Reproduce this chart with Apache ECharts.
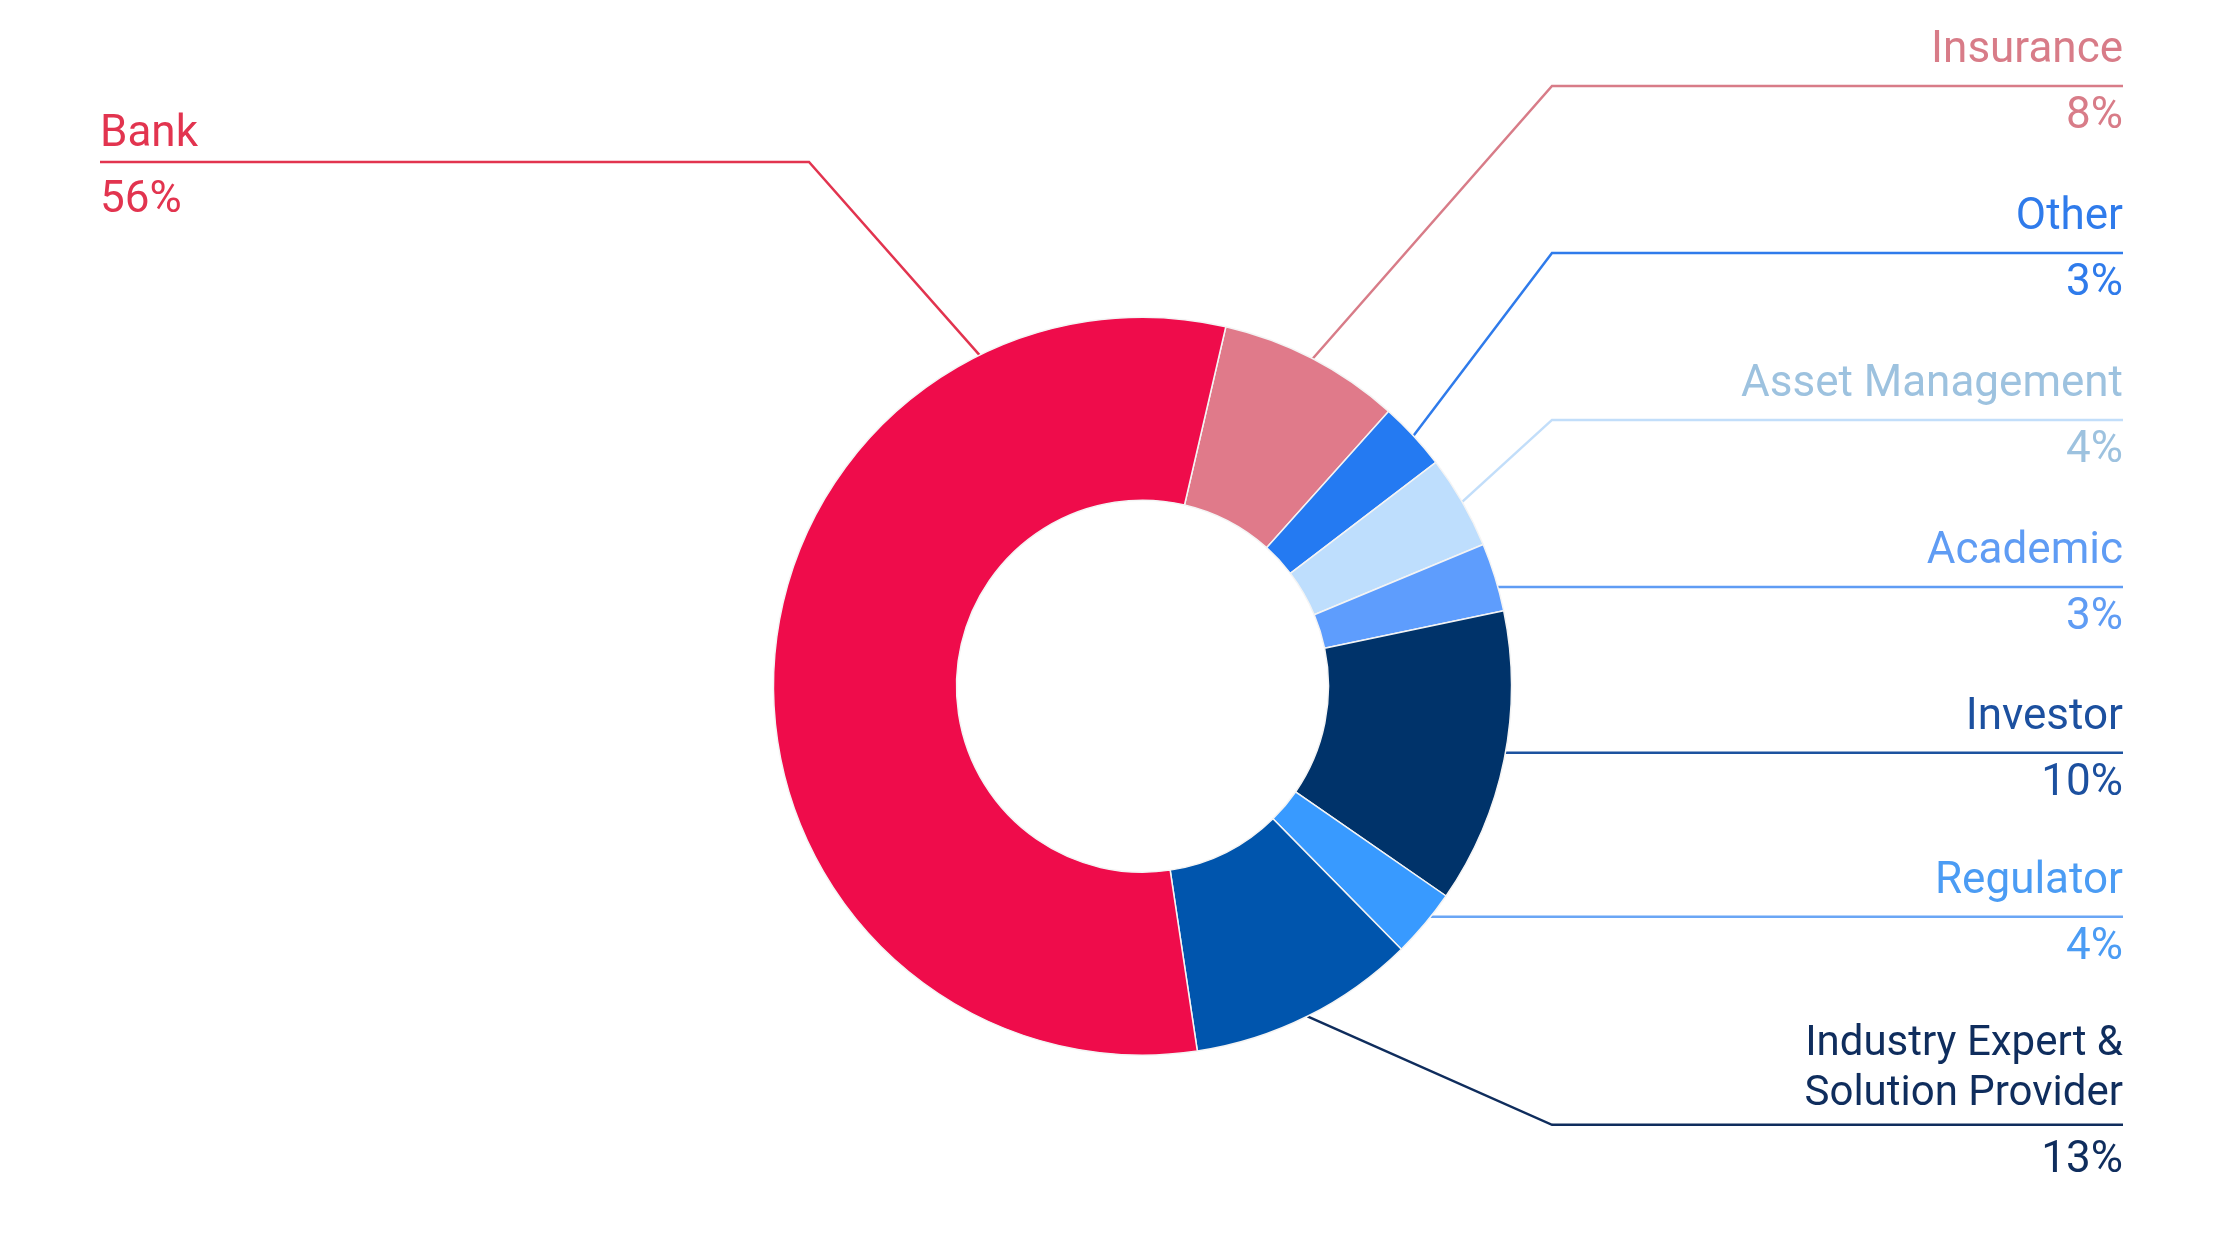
<!DOCTYPE html>
<html>
<head>
<meta charset="utf-8">
<script src="https://cdn.jsdelivr.net/npm/echarts@6/dist/echarts.min.js"></script>
<style>
  html, body { margin: 0; padding: 0; background: #ffffff; }
  #c { width: 2222px; height: 1252px; }
</style>
</head>
<body>
<div id="c"></div>
<script>
// ---------------- data ----------------
const categories = ['Insurance', 'Other', 'Asset Management', 'Academic', 'Investor', 'Regulator', 'Industry Expert &\nSolution Provider', 'Bank'];
// slice sizes (share of the ring, %)
const shares = [8.0, 3.0, 4.1, 3.0, 12.9, 3.0, 10.0, 56.0];
// percentages printed in the labels
const shareLabels = ['8%', '3%', '4%', '3%', '10%', '4%', '13%', '56%'];

// ---------------- styles ----------------
const sliceColors = ['#E07A8A', '#247AF2', '#BEDEFD', '#5E9DFD', '#00336A', '#389AFF', '#0055AD', '#EF0C4B'];
const labelColors = ['#D87C88', '#2F7BEB', '#9DC2DF', '#5F9CF4', '#1C509F', '#4B9CF4', '#0F2D5D', '#E2344F'];
const lineColors  = ['#D87C88', '#2F7BEB', '#C2DEFA', '#5F9CF4', '#1C529F', '#6AA6F5', '#0F2D5D', '#E2344F'];

// ---------------- layout ----------------
const W = 2222, H = 1252;
const CENTER = [1142.5, 686.2];
const RADIUS = [186, 369];
const START_ANGLE = 76.95;
const LABEL_RADIUS = 336;      // radius at which a label would naturally sit
const LABEL_GAP_UP = 167;      // min distance between label lines (upper half)
const LABEL_GAP_DOWN = 164;    // min distance between label lines (lower half)
const EXTRA_LINE_GAP = 44;     // extra distance per additional name line
const TEXT_RIGHT = 2123, TEXT_LEFT = 100;
const ELBOW_RIGHT = 1552, ELBOW_LEFT = 809;
const LEFT_LINE_Y = 162, LEFT_TICK_ANGLE = -26.2, LEFT_TEXT_SHIFT = 8;
const MULTI_TEXT_SHIFT = 5;    // multi-line names sit a little closer to their line
const FONT = 44, FONT_MULTI = 42, NAME_LH = 50, PCT_LH = 82, NAME_GAP = 10;
const LINE_WIDTH = 2.5;
const FONT_FAMILY = 'Roboto';

const rad = d => d * Math.PI / 180;
const total = shares.reduce((a, b) => a + b, 0);
const a0 = 90 - START_ANGLE;
const geo = [];
let cum = 0;
shares.forEach((v, i) => {
  const s = a0 + cum / total * 360;
  cum += v;
  const e = a0 + cum / total * 360;
  const mid = (s + e) / 2;
  geo.push({
    s, e, mid,
    lines: categories[i].split('\n').length,
    right: Math.sin(rad(mid)) >= 0,
    natural: CENTER[1] - LABEL_RADIUS * Math.cos(rad(mid))
  });
});
const rightIdx = geo.map((g, i) => i).filter(i => geo[i].right).sort((a, b) => geo[a].natural - geo[b].natural);
const upper = rightIdx.filter(i => geo[i].natural < CENTER[1]);
const lower = rightIdx.filter(i => geo[i].natural >= CENTER[1]);
for (let j = upper.length - 1; j >= 0; j--) {
  const g = geo[upper[j]];
  g.lineY = g.natural;
  if (j < upper.length - 1) {
    const n = geo[upper[j + 1]];
    g.lineY = Math.min(g.natural, n.lineY - LABEL_GAP_UP - EXTRA_LINE_GAP * (n.lines - 1));
  }
}
let prev = upper.length ? geo[upper[upper.length - 1]] : null;
lower.forEach(i => {
  const g = geo[i];
  g.lineY = prev ? Math.max(g.natural, prev.lineY + LABEL_GAP_DOWN + EXTRA_LINE_GAP * (g.lines - 1)) : g.natural;
  prev = g;
});
geo.forEach(g => { if (!g.right) g.lineY = LEFT_LINE_Y; });

const onRing = (angle, r) => [CENTER[0] + r * Math.sin(rad(angle)), CENTER[1] - r * Math.cos(rad(angle))];
geo.forEach(g => {
  let start = null;
  if (g.right) {
    const c = (CENTER[1] - g.lineY) / RADIUS[1];
    if (Math.abs(c) <= 1) {
      const th = Math.acos(c) * 180 / Math.PI;
      if (th >= g.s && th <= g.e) start = [CENTER[0] + RADIUS[1] * Math.sin(rad(th)), g.lineY];
    }
    if (!start) start = onRing(g.mid, RADIUS[1]);
  } else {
    start = onRing(LEFT_TICK_ANGLE, RADIUS[1]);
  }
  g.points = [start, [g.right ? ELBOW_RIGHT : ELBOW_LEFT, g.lineY], [g.right ? TEXT_RIGHT : TEXT_LEFT, g.lineY]];
});

// ---------------- chart ----------------
const chart = echarts.init(document.getElementById('c'), null, { renderer: 'canvas', width: W, height: H });
chart.setOption({
  backgroundColor: '#ffffff',
  animation: false,
  series: [{
    type: 'pie',
    center: CENTER,
    radius: RADIUS,
    startAngle: START_ANGLE,
    clockwise: true,
    avoidLabelOverlap: false,
    emphasis: { disabled: true, scale: false },
    itemStyle: { borderColor: '#f4f4f4', borderWidth: 1.5 },
    label: {
      show: true,
      position: 'outside',
      fontFamily: FONT_FAMILY,
      fontSize: FONT,
      formatter: p => {
        const g = geo[p.dataIndex];
        const side = g.right ? 'r' : 'l';
        const nameStyle = 'n' + side + (g.lines > 1 ? 'm' : '');
        return '{' + nameStyle + '|' + categories[p.dataIndex] + '}\n{p' + side + '|' + shareLabels[p.dataIndex] + '}';
      },
      rich: {
        nr:  { fontFamily: FONT_FAMILY, fontSize: FONT, lineHeight: NAME_LH, align: 'right' },
        nrm: { fontFamily: FONT_FAMILY, fontSize: FONT_MULTI, lineHeight: NAME_LH, align: 'right' },
        pr:  { fontFamily: FONT_FAMILY, fontSize: FONT, lineHeight: PCT_LH, align: 'right' },
        nl:  { fontFamily: FONT_FAMILY, fontSize: FONT, lineHeight: NAME_LH, align: 'left' },
        nlm: { fontFamily: FONT_FAMILY, fontSize: FONT_MULTI, lineHeight: NAME_LH, align: 'left' },
        pl:  { fontFamily: FONT_FAMILY, fontSize: FONT, lineHeight: PCT_LH, align: 'left' }
      }
    },
    labelLine: { show: true, length: 10, length2: 10, smooth: false, lineStyle: { width: LINE_WIDTH } },
    labelLayout: p => {
      const g = geo[p.dataIndex];
      const shift = (g.right ? 0 : LEFT_TEXT_SHIFT) + MULTI_TEXT_SHIFT * (g.lines - 1);
      return {
        x: g.right ? TEXT_RIGHT : TEXT_LEFT,
        y: g.lineY - NAME_GAP - NAME_LH * g.lines + shift,
        align: g.right ? 'right' : 'left',
        verticalAlign: 'top',
        labelLinePoints: g.points
      };
    },
    data: categories.map((name, i) => ({
      name,
      value: shares[i],
      itemStyle: { color: sliceColors[i] },
      label: { color: labelColors[i] },
      labelLine: { lineStyle: { color: lineColors[i], width: LINE_WIDTH } }
    }))
  }]
});
</script>
</body>
</html>
